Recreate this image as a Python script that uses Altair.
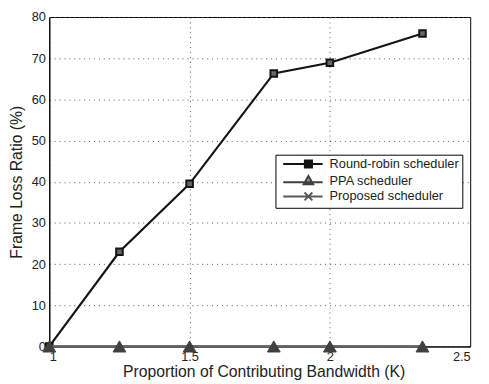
import altair as alt
import pandas as pd

series_names = ["Round-robin scheduler", "PPA scheduler", "Proposed scheduler"]
k_values = [1.0, 1.25, 1.5, 1.8, 2.0, 2.33]
round_robin = [0.0, 23.0, 39.5, 66.3, 68.9, 76.0]
ppa = [0.0, 0.0, 0.0, 0.0, 0.0, 0.0]
proposed = [0.0, 0.0, 0.0, 0.0, 0.0, 0.0]
x_ticks = [1, 1.5, 2, 2.5]
y_ticks = [0, 10, 20, 30, 40, 50, 60, 70, 80]

series_colors = ["#141414", "#404040", "#5a5a5a"]
legend_fill = ["#141414", "#9a9a9a", "#5a5a5a"]
legend_paths = [
    "M-6.4,0L3.6,0M-0.9,-0.9L0.9,-0.9L0.9,0.9L-0.9,0.9Z",
    "M-6.4,0.4L3.6,0.4M0,-1.2L1.2,0.9L-1.2,0.9Z",
    "M-6.4,0L3.6,0M-1,-1L1,1M-1,1L1,-1",
]

rows = []
for name, vals in zip(series_names, [round_robin, ppa, proposed]):
    for k, v in zip(k_values, vals):
        rows.append({"series": name, "k": k, "loss": v})
df = pd.DataFrame(rows)

FONT = "Liberation Sans"

xenc = alt.X(
    "k:Q",
    scale=alt.Scale(domain=[1, 2.5], nice=False, zero=False),
    axis=alt.Axis(
        values=x_ticks, format="~g", title="Proportion of Contributing Bandwidth (K)",
        titleY=31, titleX=218, titleBaseline="alphabetic",
    ),
)
yenc = alt.Y(
    "loss:Q",
    scale=alt.Scale(domain=[0, 80], nice=False),
    axis=alt.Axis(
        values=y_ticks, title="Frame Loss Ratio (%)",
        titleX=-28, titleBaseline="alphabetic",
    ),
)

base = alt.Chart(df)

def sel(i):
    return base.transform_filter(alt.datum.series == series_names[i])

rr_line = sel(0).mark_line(color=series_colors[0], strokeWidth=2.2).encode(x=xenc, y=yenc)
rr_pts = sel(0).mark_point(shape="square", size=45, filled=True, fill="#666666",
                           stroke=series_colors[0], strokeWidth=2, opacity=1).encode(x=xenc, y=yenc)
pr_line = sel(2).mark_line(color=series_colors[2], strokeWidth=2.2).encode(x=xenc, y=yenc)
ppa_line = sel(1).mark_line(color="#666666", strokeWidth=2.2).encode(x=xenc, y=yenc)
ppa_pts = sel(1).mark_point(shape="triangle-up", size=170, filled=True,
                            fill=series_colors[1], stroke=series_colors[1], strokeWidth=1,
                            opacity=1).encode(x=xenc, y=yenc)

legend_layer = base.transform_filter("false").mark_point(size=64, strokeWidth=2, opacity=1).encode(
    x=xenc, y=yenc,
    shape=alt.Shape("series:N", scale=alt.Scale(domain=series_names, range=legend_paths),
                    legend=alt.Legend(title=None)),
    fill=alt.Fill("series:N", scale=alt.Scale(domain=series_names, range=legend_fill),
                  legend=alt.Legend(title=None)),
    stroke=alt.Stroke("series:N", scale=alt.Scale(domain=series_names, range=series_colors),
                      legend=alt.Legend(title=None)),
)

chart = alt.layer(rr_line, rr_pts, pr_line, ppa_line, ppa_pts, legend_layer).properties(
    width=428, height=335,
    padding={"left": 42, "top": 6, "right": 11, "bottom": 35},
    autosize=alt.AutoSizeParams(type="none"),
).configure_view(
    stroke="black", strokeWidth=1
).configure_axis(
    labelFont=FONT, titleFont=FONT, labelFontSize=13, titleFontSize=16,
    titleFontWeight="normal", labelColor="#222222", titleColor="#222222",
    grid=True, gridColor="#555555", gridDash=[1, 4], gridWidth=1,
    ticks=False, labelPadding=4, domainColor="black", domainWidth=1,
).configure_legend(
    orient="none", legendX=230, legendY=140,
    strokeColor="black", fillColor="white", padding=3,
    labelFont=FONT, labelFontSize=13, labelColor="#222222",
    symbolSize=64, symbolStrokeWidth=2, symbolOffset=24, labelOffset=15,
    rowPadding=-1,
)

chart.save("out.html", embed_options={"renderer": "svg", "actions": False})
